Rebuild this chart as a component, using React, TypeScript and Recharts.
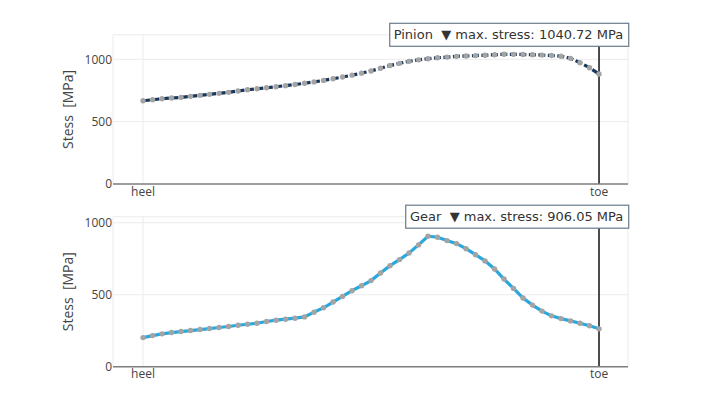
import React from "react"
import { LineChart, Line, XAxis, YAxis, CartesianGrid, ReferenceLine } from "recharts"

// stress along the face width, heel (index 0) to toe (index 48)
const pinionStress = [
  668, 676, 684, 690, 695, 703, 711, 719, 727, 735, 746, 756,
  764, 772, 780, 789, 798, 808, 819, 831, 844, 858, 873, 889,
  907, 928, 950, 968, 984, 996, 1005, 1013, 1018, 1024, 1027, 1030,
  1033, 1037, 1040.72, 1040, 1039, 1037, 1034, 1031, 1025, 1008, 973, 933,
  882,
]

const gearStress = [
  202, 216, 228, 237, 244, 251, 258, 265, 272, 279, 288, 295,
  302, 314, 323, 330, 337, 346, 379, 409, 449, 488, 528, 562,
  598, 651, 702, 744, 790, 846, 906.05, 899, 876, 855, 820, 778,
  735, 679, 609, 544, 477, 428, 386, 353, 334, 318, 302, 284,
  263,
]

const xTicks = [0, 48]
const xTickLabels = ["heel", "toe"]
const yTicks = [0, 500, 1000]

const pinionData = pinionStress.map((v, i) => ({ pos: i, stress: v }))
const gearData = gearStress.map((v, i) => ({ pos: i, stress: v }))

const tickStyle = { fontFamily: "'Open Sans', sans-serif", fontSize: 12, fill: "#444" }

function AnnotationBox(props: any) {
  const vb = props.viewBox || {}
  const cx = vb.x ?? 0
  const top = vb.y ?? 0
  const right = cx + 29.7
  const h = 23
  return (
    <g>
      <rect
        x={right - props.boxWidth}
        y={top - h / 2}
        width={props.boxWidth}
        height={h}
        fill="#fff"
        stroke="#6a7a8a"
        strokeWidth={1.2}
      />
      <text
        x={right - 5.5}
        y={top + 4.6}
        textAnchor="end"
        fontFamily="'DejaVu Sans', Verdana, sans-serif"
        fontSize={13}
        fill="#333"
        style={{ whiteSpace: "pre" }}
      >
        {props.text}
      </text>
    </g>
  )
}

function YTitle(props: any) {
  const vb = props.viewBox || {}
  const cy = (vb.y ?? 0) + (vb.height ?? 0) / 2
  return (
    <text
      x={67.5}
      y={cy}
      transform={`rotate(-90, 67.5, ${cy})`}
      textAnchor="middle"
      dominantBaseline="central"
      fontFamily="'Open Sans', sans-serif"
      fontSize={14}
      fill="#444"
      style={{ whiteSpace: "pre" }}
    >
      {"Stess  [MPa]"}
    </text>
  )
}

function StressPanel({ data, color, dash, label, boxWidth, top, height, marginTop }: any) {
  return (
    <div style={{ position: "absolute", left: 0, top, width: 713, height }}>
      <LineChart width={713} height={height} data={data} margin={{ top: marginTop, right: 85, bottom: 0, left: 0 }}>
        <CartesianGrid stroke="#ececec" strokeWidth={1} />
        <XAxis
          dataKey="pos"
          type="number"
          domain={[-3.16, 51.05]}
          ticks={xTicks}
          tickFormatter={(v: number) => xTickLabels[xTicks.indexOf(v)] ?? ""}
          tickLine={false}
          tickSize={1}
          tickMargin={2}
          height={16}
          stroke="#7f7f7f"
          strokeWidth={1.5}
          tick={tickStyle}
          interval={0}
        />
        <YAxis
          type="number"
          domain={[0, (max: number) => max * 1.15]}
          ticks={yTicks}
          allowDataOverflow
          axisLine={false}
          tickLine={false}
          tickSize={1}
          tickMargin={0}
          width={113}
          tick={tickStyle}
          label={<YTitle />}
        />
        <ReferenceLine
          x={48}
          stroke="#222"
          strokeWidth={1.6}
          label={<AnnotationBox text={label} boxWidth={boxWidth} />}
        />
        <Line
          type="linear"
          dataKey="stress"
          stroke={color}
          strokeWidth={3.2}
          strokeDasharray={dash}
          dot={{ r: 2.7, fill: "#a4a4a4", stroke: "none", strokeDasharray: "none" }}
          activeDot={false}
          isAnimationActive={false}
        />
      </LineChart>
    </div>
  )
}

export default function App() {
  return (
    <div style={{ position: "absolute", left: 0, top: 0, width: 713, height: 401, background: "#fff" }}>
      <StressPanel
        data={pinionData}
        color="#17365c"
        dash="7 2.5"
        label={"Pinion  \u25BC max. stress: 1040.72 MPa"}
        boxWidth={239}
        top={0}
        height={200}
        marginTop={34.8}
      />
      <StressPanel
        data={gearData}
        color="#29a8df"
        label={"Gear  \u25BC max. stress: 906.05 MPa"}
        boxWidth={223}
        top={182}
        height={200.7}
        marginTop={34.7}
      />
    </div>
  )
}
